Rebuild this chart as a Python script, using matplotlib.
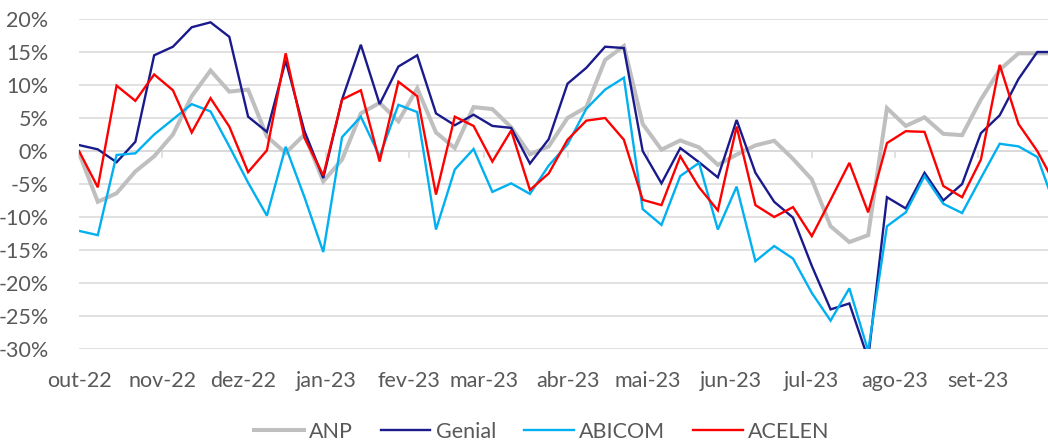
import matplotlib
matplotlib.use("Agg")
import matplotlib.pyplot as plt
import matplotlib.dates as mdates
import numpy as np
import pandas as pd

# ---- data (weekly, %) ----
start_date = "2022-10-01"
n_points = 53
dates = pd.date_range(start_date, periods=n_points, freq="7D")

anp = [-0.3, -7.7, -6.4, -3.1, -0.8, 2.5, 8.3, 12.2, 9.0, 9.3,
       2.2, -0.3, 2.5, -4.6, -1.3, 5.7, 7.3, 4.5, 9.5, 2.8,
       0.45, 6.65, 6.35, 3.6, -0.5, 0.7, 5.0, 6.65, 13.8, 15.9,
       4.1, 0.2, 1.6, 0.55, -2.1, -0.55, 0.85, 1.55, -1.2, -4.3,
       -11.4, -13.8, -12.75, 6.5, 3.8, 5.1, 2.6, 2.4, 7.8, 12.3,
       14.8, 14.8, 14.8]
genial = [0.9, 0.25, -1.7, 1.4, 14.5, 15.8, 18.75, 19.5, 17.3, 5.2,
          2.9, 13.7, 3.0, -4.1, 7.8, 16.1, 7.1, 12.8, 14.5, 5.7,
          3.9, 5.5, 3.8, 3.5, -1.9, 1.8, 10.2, 12.6, 15.8, 15.6,
          0.0, -4.9, 0.45, -1.7, -4.0, 4.7, -3.3, -7.7, -10.1, -17.4,
          -24.0, -23.1, -31.5, -7.0, -8.7, -3.3, -7.5, -5.0, 2.7, 5.4,
          10.9, 15.0, 15.0]
abicom = [-12.1, -12.75, -0.6, -0.35, 2.5, 4.8, 7.1, 6.0, 0.7, -4.8,
          -9.8, 0.65, -7.0, -15.3, 2.1, 5.2, -0.8, 7.0, 5.9, -11.9,
          -2.8, 0.3, -6.2, -4.9, -6.5, -2.2, 1.0, 6.4, 9.3, 11.1,
          -8.8, -11.2, -3.8, -1.8, -11.9, -5.4, -16.7, -14.4, -16.3, -21.5,
          -25.7, -20.8, -30.3, -11.4, -9.3, -3.8, -8.0, -9.4, -4.1, 1.1,
          0.7, -0.9, -8.8]
acelen = [0.0, -5.5, 9.9, 7.6, 11.6, 9.2, 2.8, 8.0, 3.7, -3.2,
          0.1, 14.8, 2.0, -3.7, 7.8, 9.2, -1.6, 10.5, 8.3, -6.6,
          5.2, 3.8, -1.6, 3.1, -5.9, -3.4, 1.7, 4.6, 5.0, 1.7,
          -7.4, -8.2, -0.8, -5.5, -9.0, 3.7, -8.2, -10.0, -8.5, -12.9,
          -7.4, -1.8, -9.3, 1.2, 3.0, 2.9, -5.3, -7.0, -1.3, 13.05,
          4.1, 0.0, -5.3]

series_names = ["ANP", "Genial", "ABICOM", "ACELEN"]
series_values = [anp, genial, abicom, acelen]
colors = ["#BFBFBF", "#1A1A8C", "#00B0F0", "#FF0000"]
widths = [2.9, 1.7, 1.7, 1.7]

month_labels = ["out-22", "nov-22", "dez-22", "jan-23", "fev-23", "mar-23",
                "abr-23", "mai-23", "jun-23", "jul-23", "ago-23", "set-23"]
month_starts = pd.date_range("2022-10-01", periods=12, freq="MS")
x_end = pd.Timestamp("2023-09-27")

yticks = list(range(-30, 25, 5))

# ---- style ----
plt.rcParams["font.family"] = ["Lato", "DejaVu Sans"]
text_color = "#595959"
grid_color = "#D9D9D9"
fs = 15.5

fig = plt.figure(figsize=(10.48, 4.44), dpi=100)
ax = fig.add_axes([79 / 1048, 1 - 349 / 444, 1 - 79 / 1048, 330 / 444])

for name, vals, c, lw in zip(series_names, series_values, colors, widths):
    ax.plot(dates, vals, color=c, lw=lw, label=name, solid_joinstyle="miter",
            zorder=3)

ax.set_ylim(-30, 20)
ax.set_xlim(pd.Timestamp(start_date), x_end)
ax.set_yticks(yticks)
ax.set_yticklabels([f"{v}%" for v in yticks])
ax.yaxis.grid(True, color=grid_color, lw=1.1)
ax.set_axisbelow(True)
for s in ax.spines.values():
    s.set_visible(False)

ax.set_xticks(month_starts)
ax.set_xticklabels(month_labels)
ax.tick_params(axis="x", length=0, pad=16, labelsize=fs, labelcolor=text_color)
ax.tick_params(axis="y", length=0, pad=22, labelsize=fs, labelcolor=text_color)

# horizontal axis line at 0% with month tick marks
sec = ax.secondary_xaxis(0.6)
sec.set_xticks(month_starts)
sec.set_xticklabels([])
sec.tick_params(axis="x", length=5, width=1.1, color=grid_color, direction="in")
for s in sec.spines.values():
    s.set_color(grid_color)
    s.set_linewidth(1.1)

leg = fig.legend(loc="center", bbox_to_anchor=(0.517, 0.027), ncol=4,
                 frameon=False, fontsize=fs, handlelength=2.3,
                 handletextpad=0.25, columnspacing=1.3)
for t in leg.get_texts():
    t.set_color(text_color)

fig.savefig("out.png", dpi=100)
